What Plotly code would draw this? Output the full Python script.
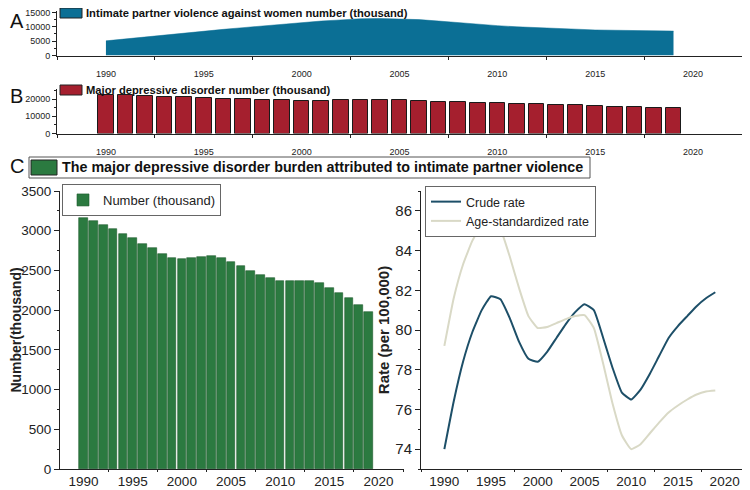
import plotly.graph_objects as go

# the page body keeps its default 8px margin, so the figure is drawn 8px in
OFF = 8
W, H = 750 - OFF, 490 - OFF

years = list(range(1990, 2020))

# panel A - intimate partner violence against women (thousand)
ipv_number = [5100, 5800, 6500, 7100, 7800, 8500, 9100, 9700, 10300, 10900,
              11500, 12000, 12400, 12800, 12900, 12800, 12500, 12000, 11400, 10900,
              10400, 10000, 9700, 9400, 9100, 8900, 8800, 8700, 8600, 8500]

# panel B - major depressive disorder (thousand)
mdd_number = [22600, 22200, 21800, 21400, 21000, 20600, 20200, 19800, 19500, 19400,
              19100, 19100, 19400, 19500, 19500, 19300, 18900, 18400, 18000, 17700,
              17400, 17300, 17000, 16700, 16300, 15900, 15600, 15300, 15000, 14600]

# panel C - MDD attributed to IPV
attrib_number = [3160, 3123, 3069, 3019, 2961, 2911, 2836, 2778, 2712, 2662,
                 2641, 2654, 2674, 2683, 2654, 2604, 2550, 2496, 2442, 2400,
                 2371, 2371, 2371, 2363, 2338, 2284, 2222, 2151, 2068, 1973]
crude_rate = [74.0, 76.4, 78.4, 79.9, 81.0, 81.7, 81.55, 80.6, 79.4, 78.55,
              78.4, 78.9, 79.6, 80.3, 80.9, 81.3, 81.0, 79.6, 78.1, 76.85,
              76.5, 77.0, 77.8, 78.7, 79.6, 80.2, 80.7, 81.2, 81.6, 81.9]
asr_rate = [79.2, 81.6, 83.3, 84.5, 85.3, 85.7, 85.1, 83.7, 82.1, 80.7,
            80.1, 80.15, 80.35, 80.55, 80.7, 80.75, 80.1, 78.3, 76.3, 74.7,
            74.0, 74.25, 74.8, 75.35, 75.85, 76.2, 76.5, 76.75, 76.9, 76.95]

ARIAL = "Liberation Sans, Arial"
TEAL, RED, GREEN = "#0b6f95", "#a51f2e", "#2b7a40"


def px_x(p):
    return (p - OFF) / W


def px_y(p):
    return 1 - (p - OFF) / H


fig = go.Figure()

fig.add_trace(go.Scatter(x=years, y=ipv_number, fill="tozeroy", mode="lines",
                         line=dict(color=TEAL, width=0.5), fillcolor=TEAL,
                         name="Intimate partner violence against women number (thousand)",
                         xaxis="x", yaxis="y", showlegend=False))
fig.add_trace(go.Bar(x=years, y=mdd_number, width=0.8,
                     marker=dict(color=RED, line=dict(color="#1a1a1a", width=1)),
                     name="Major depressive disorder number (thousand)",
                     xaxis="x2", yaxis="y2", showlegend=False))
fig.add_trace(go.Bar(x=years, y=attrib_number, width=0.88,
                     marker=dict(color=GREEN, line=dict(color="#1d5a2c", width=0.6)),
                     name="Number (thousand)",
                     xaxis="x3", yaxis="y3", legend="legend"))
fig.add_trace(go.Scatter(x=years, y=crude_rate, mode="lines", name="Crude rate",
                         line=dict(color="#1d4f68", width=2, shape="spline", smoothing=0.4),
                         xaxis="x4", yaxis="y4", legend="legend2"))
fig.add_trace(go.Scatter(x=years, y=asr_rate, mode="lines", name="Age-standardized rate",
                         line=dict(color="#d9d9c6", width=2, shape="spline", smoothing=0.4),
                         xaxis="x4", yaxis="y4", legend="legend2"))

small_tick = dict(family=ARIAL, size=9, color="#222")
big_tick = dict(family=ARIAL, size=13.5, color="#222")


def xax(domain, anchor, rng, font, standoff, mlen=3):
    return dict(domain=domain, anchor=anchor, range=rng, tickvals=[1990, 1995, 2000, 2005, 2010, 2015, 2020],
                ticks="", showline=True, linecolor="#222", linewidth=1, showgrid=False, zeroline=False,
                tickfont=font, ticklabelstandoff=standoff, automargin=False, ticklabeloverflow="allow",
                minor=dict(ticks="outside", tick0=1987.5, dtick=5, ticklen=mlen, tickcolor="#222", showgrid=False))


def yax(domain, anchor, rng, dtick, mdtick, font, ticklen):
    return dict(domain=domain, anchor=anchor, range=rng, dtick=dtick, tick0=0, ticks="outside",
                ticklen=ticklen, tickcolor="#222", showline=True, linecolor="#222", linewidth=1,
                showgrid=False, zeroline=False, tickfont=font, tickformat="d", automargin=False,
                ticklabeloverflow="allow",
                minor=dict(ticks="outside", dtick=mdtick, ticklen=ticklen / 2, tickcolor="#222", showgrid=False))


left_dom = [px_x(60), px_x(404)]
right_dom = [px_x(421), px_x(748)]
c_dom = [px_y(469), px_y(191)]

fig.update_layout(
    width=W, height=H, margin=dict(l=0, r=0, t=0, b=0),
    paper_bgcolor="white", plot_bgcolor="white", bargap=0,
    xaxis=xax([px_x(57), px_x(742)], "y", [1987.5, 2022.5], small_tick, 10),
    yaxis=yax([px_y(55.5), px_y(11)], "x", [0, 15500], 5000, 2500, small_tick, 4),
    xaxis2=xax([px_x(57), px_x(742)], "y2", [1987.5, 2022.5], small_tick, 10),
    yaxis2=yax([px_y(133.5), px_y(89)], "x2", [0, 25800], 10000, 5000, small_tick, 4),
    xaxis3=xax(left_dom, "y3", [1987.6, 2022.6], big_tick, 0, 2),
    yaxis3=yax(c_dom, "x3", [0, 3500], 500, 250, big_tick, 5),
    xaxis4=xax(right_dom, "y4", [1987.5, 2022.5], big_tick, 0, 2),
    yaxis4=yax(c_dom, "x4", [73, 87], 2, 1, dict(family=ARIAL, size=15, color="#222"), 5),
    legend=dict(x=px_x(62), y=px_y(184), xanchor="left", yanchor="top", bgcolor="white",
                bordercolor="#666", borderwidth=1,
                font=dict(family=ARIAL, size=13, color="#222"), itemwidth=30),
    legend2=dict(x=px_x(425), y=px_y(186), xanchor="left", yanchor="top", bgcolor="white",
                 bordercolor="#666", borderwidth=1, tracegroupgap=0,
                 font=dict(family=ARIAL, size=12.5, color="#222"), itemwidth=30),
)

fig.update_yaxes(title=dict(text="<b>Number(thousand)</b>", font=dict(family=ARIAL, size=14, color="#222"),
                            standoff=0), selector=dict(anchor="x3"))
fig.update_yaxes(title=dict(text="<b>Rate (per 100,000)</b>", font=dict(family=ARIAL, size=15, color="#222"),
                            standoff=2), selector=dict(anchor="x4"))

# panel letters
for letter, ly in [("A", 8), ("B", 83), ("C", 153)]:
    fig.add_annotation(text=letter, x=0, y=px_y(ly), xref="paper", yref="paper",
                       xanchor="left", yanchor="top", showarrow=False,
                       font=dict(family=ARIAL, size=20, color="#111"))

# key swatches for panels A and B
for label, colour, top in [("Intimate partner violence against women number (thousand)", TEAL, 8),
                           ("Major depressive disorder number (thousand)", RED, 85)]:
    fig.add_shape(type="rect", xref="paper", yref="paper", x0=px_x(60), x1=px_x(82),
                  y0=px_y(top + 10), y1=px_y(top), line=dict(color="#222", width=1), fillcolor=colour)
    fig.add_annotation(text="<b>" + label + "</b>", x=px_x(84), y=px_y(top + 5), xref="paper", yref="paper",
                       xanchor="left", yanchor="middle", showarrow=False,
                       font=dict(family=ARIAL, size=11.2, color="#111"))

# panel C header box
fig.add_shape(type="rect", xref="paper", yref="paper", x0=px_x(29), x1=px_x(590),
              y0=px_y(178), y1=px_y(157), line=dict(color="#555", width=1), fillcolor="white")
fig.add_shape(type="rect", xref="paper", yref="paper", x0=px_x(31), x1=px_x(57),
              y0=px_y(175), y1=px_y(160), line=dict(color="#222", width=1), fillcolor=GREEN)
fig.add_annotation(text="<b>The major depressive disorder burden attributed to intimate partner violence</b>",
                   x=px_x(60), y=px_y(167.5), xref="paper", yref="paper", xanchor="left", yanchor="middle",
                   showarrow=False, font=dict(family=ARIAL, size=14.3, color="#111"))

fig.write_html("out.html")
